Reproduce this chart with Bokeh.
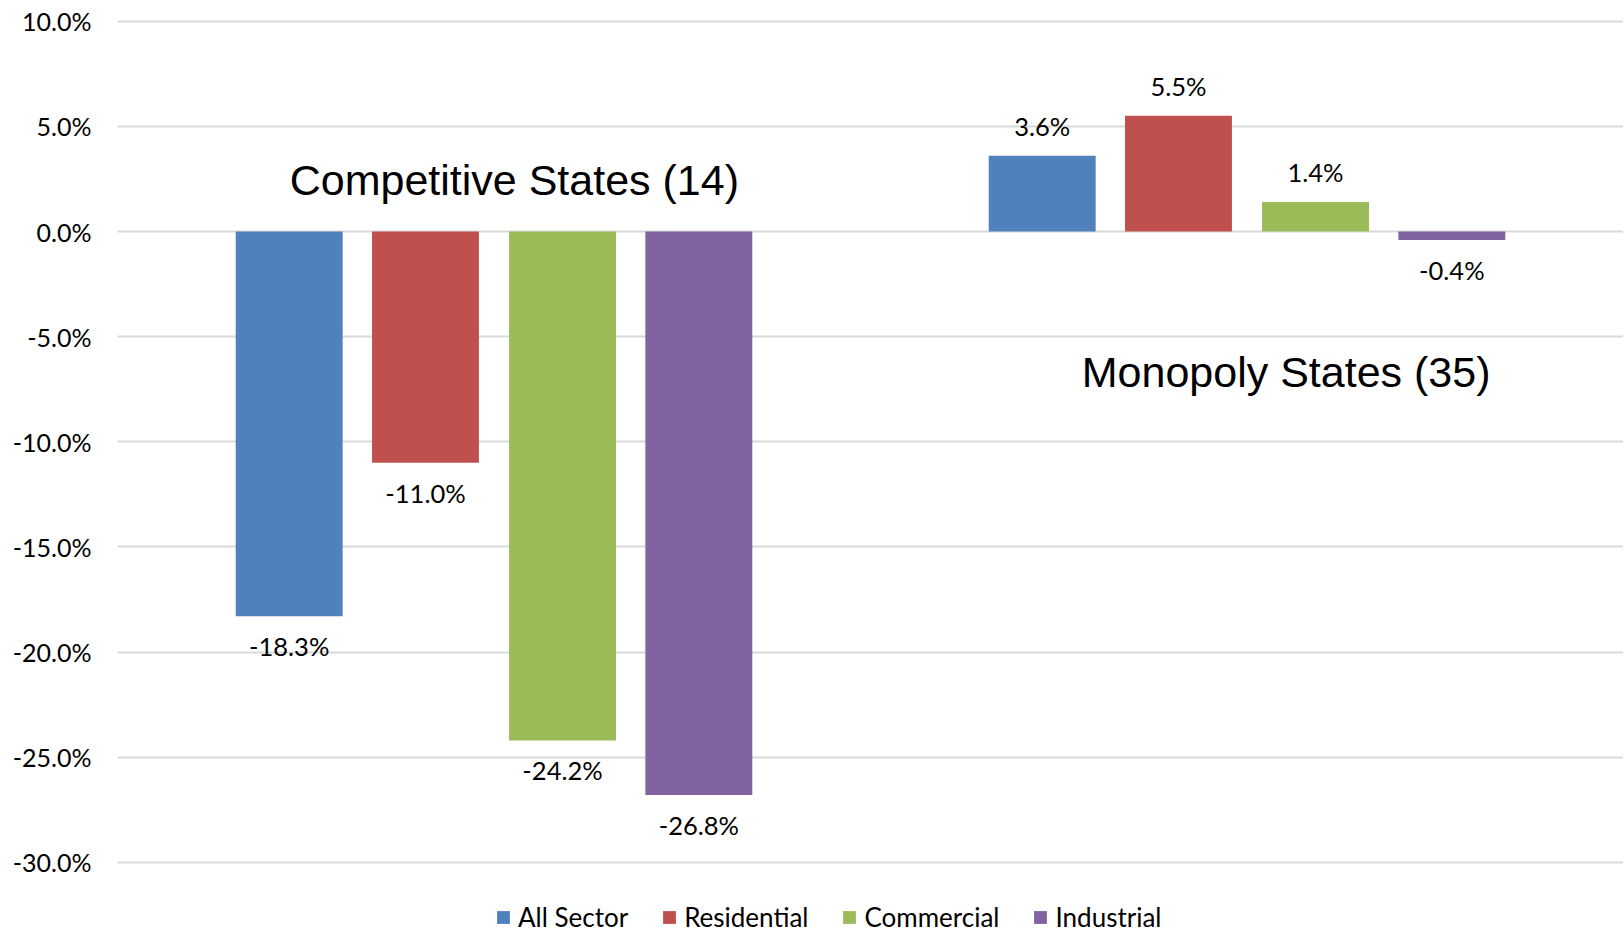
from bokeh.plotting import figure
from bokeh.models import (ColumnDataSource, FactorRange, Range1d, FixedTicker,
                          PrintfTickFormatter, Legend, LegendItem)
from bokeh.transform import dodge
from bokeh.core.properties import value
from bokeh.embed import file_html
from bokeh.resources import INLINE

# ---- data ----
groups = ["Competitive States (14)", "Monopoly States (35)"]
series = ["All Sector", "Residential", "Commercial", "Industrial"]
all_sector = [-18.3, 3.6]
residential = [-11.0, 5.5]
commercial = [-24.2, 1.4]
industrial = [-26.8, -0.4]
colors = ["#4F81BD", "#C0504D", "#9BBB59", "#8064A2"]
y_ticks = [-30, -25, -20, -15, -10, -5, 0, 5, 10]

values = [all_sector, residential, commercial, industrial]
offsets = [-0.272, -0.091, 0.091, 0.272]

p = figure(width=1623, height=933, output_backend="svg", toolbar_location=None,
           x_range=FactorRange(factors=groups, range_padding=0),
           y_range=Range1d(-33.38, 10.51),
           min_border_left=117, min_border_right=0, min_border_top=10,
           min_border_bottom=0)
p.outline_line_color = None
p.background_fill_color = "white"
p.border_fill_color = "white"

p.xaxis.visible = False
p.xgrid.visible = False
p.ygrid.grid_line_color = "#d9d9d9"
p.ygrid.grid_line_width = 2
p.yaxis.ticker = FixedTicker(ticks=y_ticks)
p.yaxis.formatter = PrintfTickFormatter(format="%.1f%%")
p.yaxis.axis_line_color = None
p.yaxis.major_tick_line_color = None
p.yaxis.minor_tick_line_color = None
p.yaxis.major_tick_out = 0
p.yaxis.major_label_standoff = 26
p.yaxis.major_label_text_font = "Lato"
p.yaxis.major_label_text_font_size = "25px"
p.yaxis.major_label_text_color = "black"

items = []
for name, vals, col, off in zip(series, values, colors, offsets):
    src = ColumnDataSource(dict(
        g=groups, v=vals,
        lab=["%.1f%%" % v for v in vals],
        yoff=[-30 if v >= 0 else 30 for v in vals],
    ))
    r = p.vbar(x=dodge("g", off, range=p.x_range), top="v", bottom=0, width=0.142,
               source=src, fill_color=col, line_color=None)
    p.text(x=dodge("g", off, range=p.x_range), y="v", text="lab", y_offset="yoff",
           source=src, text_align="center", text_baseline="middle",
           text_font=value("Lato"), text_font_size="25.5px", text_color="black")
    items.append(LegendItem(label=name, renderers=[r]))

# group titles
p.text(x=dodge("g", 0.027, range=p.x_range), y="y", text="g",
       source=ColumnDataSource(dict(g=[groups[0]], y=[2.43])),
       text_align="center", text_baseline="middle",
       text_font=value("Liberation Sans"), text_font_size="43px", text_color="black")
p.text(x=dodge("g", 0.052, range=p.x_range), y="y", text="g",
       source=ColumnDataSource(dict(g=[groups[1]], y=[-6.7])),
       text_align="center", text_baseline="middle",
       text_font=value("Liberation Sans"), text_font_size="43px", text_color="black")

legend = Legend(items=items, orientation="horizontal", location=(378, 0),
                glyph_width=16, glyph_height=16, label_standoff=7, spacing=33,
                padding=2, margin=0, border_line_color=None,
                background_fill_alpha=0,
                label_text_font="Lato", label_text_font_size="26px",
                label_text_color="black")
p.add_layout(legend)

open("out.html", "w").write(file_html(p, INLINE))
